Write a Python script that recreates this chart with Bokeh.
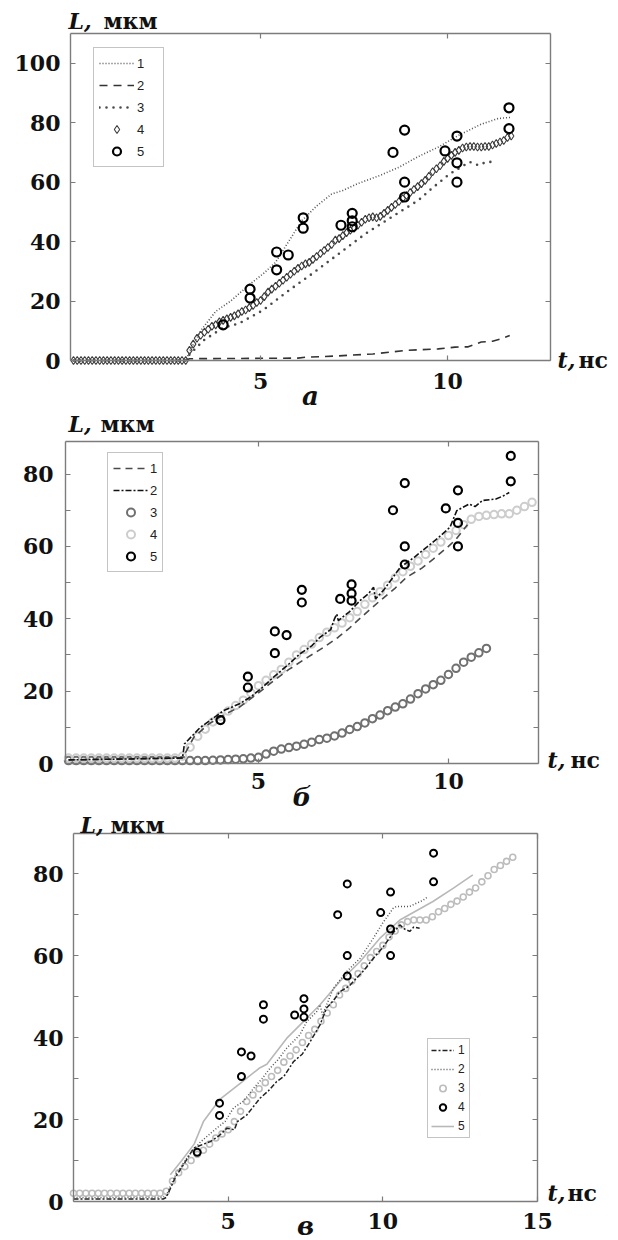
from bokeh.plotting import figure
from bokeh.models import Legend, LegendItem, Label, LinearAxis, FixedTicker, Range1d
from bokeh.layouts import column
from bokeh.embed import file_html
from bokeh.resources import INLINE

# ---------------- data ----------------
# experimental points (same in all three panels)
exp_t = [4.0, 4.72, 4.72, 5.43, 5.43, 5.74, 6.14, 6.14, 7.15, 7.45, 7.45, 7.45,
         8.54, 8.85, 8.85, 8.85, 9.93, 10.25, 10.25, 10.25, 11.64, 11.64]
exp_L = [12.0, 24.0, 21.0, 36.5, 30.5, 35.5, 48.0, 44.5, 45.5, 49.5, 47.0, 45.0,
         70.0, 77.5, 60.0, 55.0, 70.5, 75.5, 66.5, 60.0, 85.0, 78.0]

# panel a
a1_t = [0.0, 3.0, 3.1, 3.4, 3.8, 4.2, 4.7, 5.1, 5.4, 5.7, 6.1, 6.5, 6.9, 7.2, 7.6,
        8.2, 8.7, 9.2, 9.75, 10.3, 10.9, 11.35, 11.7]
a1_L = [0.0, 0.0, 3.0, 10.0, 16.5, 20.0, 25.5, 29.5, 33.0, 39.0, 47.0, 52.0, 56.0, 57.2, 59.5,
        62.3, 65.0, 68.5, 71.8, 75.8, 79.5, 81.4, 81.8]
a2_t = [0.0, 3.0, 3.1, 6.0, 6.2, 7.0, 8.0, 8.9, 9.75, 10.2, 10.55, 10.9, 11.2, 11.44, 11.66]
a2_L = [0.0, 0.0, 0.6, 0.8, 1.1, 1.5, 2.2, 3.4, 3.9, 4.5, 4.6, 6.2, 6.5, 7.3, 8.4]
a3_t = [0.0, 3.0, 3.1, 3.5, 4.0, 4.43, 5.05, 5.76, 6.38, 7.09, 7.8, 8.51, 9.22, 9.57,
        10.06, 10.59, 10.82, 11.04, 11.26]
a3_L = [0.0, 0.0, 2.0, 7.0, 11.0, 12.5, 16.8, 23.6, 29.2, 35.9, 42.6, 48.3, 53.9, 57.8,
        62.8, 66.8, 65.7, 66.8, 66.8]
a4_t = [0.0, 0.1, 0.2, 0.3, 0.4, 0.5, 0.6, 0.7, 0.8, 0.9, 1.0, 1.1, 1.2, 1.3, 1.4, 1.5,
        1.6, 1.7, 1.8, 1.9, 2.0, 2.1, 2.2, 2.3, 2.4, 2.5, 2.6, 2.7, 2.8, 2.9, 3.0,
        3.1, 3.2, 3.3, 3.4, 3.5, 3.6, 3.7, 3.8, 3.9, 4.0, 4.1, 4.2, 4.3, 4.4, 4.5, 4.6,
        4.7, 4.8, 4.9, 5.0, 5.1, 5.2, 5.3, 5.4, 5.5, 5.6, 5.7, 5.8, 5.9, 6.0, 6.1, 6.2,
        6.3, 6.4, 6.5, 6.6, 6.7, 6.8, 6.9, 7.0, 7.1, 7.2, 7.3, 7.4, 7.5, 7.6, 7.7, 7.8,
        7.9, 8.0, 8.1, 8.2, 8.3, 8.4, 8.5, 8.6, 8.7, 8.8, 8.9, 9.0, 9.1, 9.2, 9.3, 9.4,
        9.5, 9.6, 9.7, 9.8, 9.9, 10.0, 10.1, 10.2, 10.3, 10.4, 10.5, 10.6, 10.7, 10.8,
        10.9, 11.0, 11.1, 11.2, 11.3, 11.4, 11.5, 11.6, 11.7]
a4_L = [0.0, 0.0, 0.0, 0.0, 0.0, 0.0, 0.0, 0.0, 0.0, 0.0, 0.0, 0.0, 0.0, 0.0, 0.0, 0.0,
        0.0, 0.0, 0.0, 0.0, 0.0, 0.0, 0.0, 0.0, 0.0, 0.0, 0.0, 0.0, 0.0, 0.0, 0.0,
        3.4, 5.5, 7.5, 8.5, 9.5, 10.5, 11.5, 12.0, 13.0, 13.5, 14.0, 14.5, 15.0, 15.7, 16.5, 17.0,
        17.8, 18.5, 19.5, 20.2, 21.5, 23.0, 24.0, 25.0, 26.0, 27.0, 28.0, 29.0, 30.0, 31.0, 31.8, 32.5,
        33.0, 34.0, 35.0, 36.0, 37.0, 38.0, 39.0, 40.5, 41.0, 42.0, 43.0, 43.8, 44.5, 45.5, 46.5, 47.5,
        48.0, 48.3, 48.0, 48.5, 49.5, 50.5, 51.5, 52.5, 53.5, 54.5, 55.5, 56.5, 57.5, 58.5, 59.5, 60.6,
        62.0, 63.5, 64.5, 65.5, 67.0, 68.0, 69.0, 70.0, 70.7, 71.5, 71.8, 72.0, 72.0, 71.8,
        71.8, 72.0, 72.0, 72.5, 73.0, 73.5, 74.0, 75.0, 75.5]

# panel b
b1_t = [0.0, 3.0, 3.3, 3.7, 4.1, 4.5, 5.0, 5.4, 5.8, 6.3, 6.7, 7.1, 7.4, 7.7, 8.2, 8.6,
        8.9, 9.3, 9.6, 10.0, 10.2, 10.5]
b1_L = [1.0, 1.5, 7.3, 11.0, 13.5, 15.6, 19.5, 22.9, 26.0, 29.4, 32.0, 34.9, 37.5, 40.4, 45.0, 48.5,
        51.5, 54.0, 56.5, 60.0, 62.0, 66.0]
b2_t = [0.0, 3.0, 3.05, 3.47, 4.08, 4.5, 4.78, 5.1, 5.39, 5.8, 6.09, 6.4, 6.62, 6.9, 7.0, 7.06,
        7.1, 7.4, 7.67, 7.9, 8.03, 8.08, 8.3, 8.73, 9.1, 9.43, 9.8, 10.04, 10.22, 10.54, 10.7,
        10.9, 11.25, 11.45, 11.6]
b2_L = [1.0, 1.5, 5.4, 10.0, 14.6, 16.5, 18.3, 21.0, 23.8, 27.5, 30.3, 32.5, 34.9, 37.0, 40.0, 41.3,
        39.5, 42.0, 45.0, 47.0, 48.7, 45.5, 48.0, 54.2, 57.0, 59.8, 63.0, 65.3, 69.9, 71.7, 71.0,
        72.7, 73.1, 74.0, 74.9]
b3_t = [0.0, 0.2, 0.4, 0.6, 0.8, 1.0, 1.2, 1.4, 1.6, 1.8, 2.0, 2.2, 2.4, 2.6, 2.8, 3.0,
        3.2, 3.4, 3.6, 3.8, 4.0, 4.2, 4.4, 4.6, 4.8, 5.0, 5.2, 5.4, 5.6, 5.8, 6.0, 6.2,
        6.4, 6.6, 6.8, 7.0, 7.2, 7.4, 7.6, 7.8, 8.0, 8.2, 8.4, 8.6, 8.8, 9.0, 9.2, 9.4,
        9.6, 9.8, 10.0, 10.2, 10.4, 10.6, 10.8, 11.0]
b3_L = [0.8, 0.8, 0.8, 0.8, 0.8, 0.8, 0.8, 0.8, 0.8, 0.8, 0.8, 0.8, 0.8, 0.8, 0.8, 0.8,
        0.8, 0.8, 0.8, 0.9, 1.0, 1.1, 1.2, 1.3, 1.5, 1.7, 2.6, 3.4, 4.0, 4.4, 4.8, 5.3,
        5.9, 6.6, 7.0, 7.6, 8.4, 9.4, 10.2, 11.2, 12.4, 13.4, 14.6, 15.6, 16.5, 17.8, 19.3, 20.6,
        21.8, 23.0, 24.6, 26.3, 28.0, 29.4, 30.6, 31.8]
b4_t = [0.0, 0.2, 0.4, 0.6, 0.8, 1.0, 1.2, 1.4, 1.6, 1.8, 2.0, 2.2, 2.4, 2.6, 2.8, 3.0,
        3.2, 3.4, 3.6, 3.8, 4.0, 4.2, 4.4, 4.6, 4.8, 5.0, 5.2, 5.4, 5.6, 5.8, 6.0, 6.2,
        6.4, 6.6, 6.8, 7.0, 7.2, 7.4, 7.6, 7.8, 8.0, 8.2, 8.4, 8.6, 8.8, 9.0, 9.2, 9.4,
        9.6, 9.8, 10.0, 10.2, 10.4, 10.6, 10.8, 11.0, 11.2, 11.4, 11.6, 11.8, 12.0, 12.2]
b4_L = [1.5, 1.5, 1.5, 1.5, 1.5, 1.5, 1.5, 1.5, 1.5, 1.5, 1.5, 1.5, 1.5, 1.5, 1.5, 2.0,
        4.5, 7.5, 9.5, 11.5, 13.0, 14.5, 16.0, 17.5, 19.5, 21.5, 23.0, 24.5, 26.0, 28.0, 30.0, 31.5,
        33.0, 34.8, 36.3, 37.5, 38.8, 40.3, 42.0, 44.0, 45.8, 47.5, 49.3, 51.3, 53.0, 54.5, 56.0, 57.8,
        59.5, 61.2, 63.0, 64.4, 66.0, 67.5, 68.3, 68.6, 68.8, 69.0, 69.0, 70.0, 71.0, 72.2]

# panel c
c1_t = [0.0, 2.9, 3.0, 3.3, 3.6, 3.88, 4.2, 4.42, 4.7, 4.96, 5.2, 5.3, 5.6, 6.03, 6.3, 6.57,
        6.8, 7.11, 7.4, 7.65, 7.97, 8.18, 8.4, 8.61, 8.9, 9.15, 9.4, 9.69, 10.0, 10.33, 10.55,
        10.7, 10.87, 11.0, 11.19]
c1_L = [0.6, 0.6, 1.0, 6.0, 9.5, 13.0, 14.0, 14.6, 16.0, 17.9, 17.5, 19.5, 21.1, 25.2, 27.0, 29.3,
        30.5, 34.1, 36.0, 39.0, 43.1, 47.2, 49.0, 51.2, 52.5, 54.5, 56.5, 59.3, 62.0, 65.5, 67.5,
        66.5, 65.9, 67.0, 66.7]
c2_t = [0.0, 2.9, 3.0, 3.3, 3.7, 4.1, 4.63, 4.9, 5.17, 5.5, 5.82, 6.1, 6.35, 6.6, 6.89, 7.1,
        7.32, 7.54, 7.86, 7.97, 8.05, 8.4, 8.83, 9.26, 9.69, 10.0, 10.33, 10.44, 10.87, 11.09,
        11.3, 11.46]
c2_L = [1.0, 1.0, 1.5, 6.5, 11.0, 14.5, 17.9, 19.5, 22.8, 24.5, 27.6, 30.0, 32.5, 34.5, 37.4, 39.0,
        40.7, 43.9, 46.3, 48.0, 45.5, 52.0, 56.1, 59.3, 64.2, 68.0, 71.5, 72.0, 72.0, 72.8,
        73.5, 74.4]
c3_t = [0.0, 0.2, 0.4, 0.6, 0.8, 1.0, 1.2, 1.4, 1.6, 1.8, 2.0, 2.2, 2.4, 2.6, 2.8, 3.0,
        3.2, 3.4, 3.6, 3.8, 4.0, 4.2, 4.4, 4.6, 4.8, 5.0, 5.2, 5.4, 5.6, 5.8, 6.0, 6.2,
        6.4, 6.6, 6.8, 7.0, 7.2, 7.4, 7.6, 7.8, 8.0, 8.2, 8.4, 8.6, 8.8, 9.0, 9.2, 9.4,
        9.6, 9.8, 10.0, 10.2, 10.4, 10.6, 10.8, 11.0, 11.2, 11.4, 11.6, 11.8, 12.0, 12.2,
        12.4, 12.6, 12.8, 13.0, 13.2, 13.4, 13.6, 13.8, 14.0, 14.2]
c3_L = [2.0, 2.0, 2.0, 2.0, 2.0, 2.0, 2.0, 2.0, 2.0, 2.0, 2.0, 2.0, 2.0, 2.0, 2.0, 2.5,
        5.0, 7.0, 8.5, 10.0, 11.5, 12.5, 14.0, 15.5, 16.5, 17.5, 19.5, 22.0, 24.4, 26.0, 27.5, 29.0,
        30.5, 32.0, 34.0, 35.5, 37.0, 38.8, 40.5, 42.0, 44.0, 46.0, 48.0, 50.4, 52.0, 53.8, 55.6, 57.5,
        59.5, 61.0, 62.5, 64.5, 66.0, 67.5, 68.3, 68.7, 68.7, 68.7, 69.5, 70.7, 71.5, 72.5,
        73.3, 74.3, 75.5, 76.5, 78.0, 79.5, 81.0, 82.0, 83.0, 84.0]
c5_t = [3.13, 3.5, 3.9, 4.2, 4.74, 5.39, 6.0, 6.25, 6.89, 7.43, 7.97, 8.61, 9.26, 9.9,
        10.55, 11.62, 12.27, 12.91]
c5_L = [6.5, 10.0, 14.0, 19.5, 25.0, 28.8, 32.5, 33.5, 39.8, 43.9, 48.0, 53.7, 58.5, 64.2,
        68.7, 73.2, 76.4, 79.7]

legend_labels = ["1", "2", "3", "4", "5"]
panel_names = ["а", "б", "в"]
x_ticks_ab = [5, 10]
x_ticks_c = [5, 10, 15]
y_ticks_a = [0, 20, 40, 60, 80, 100]
y_ticks_bc = [0, 20, 40, 60, 80]
y_minor_bc = [10, 30, 50, 70]

# ---------------- styling helpers ----------------
GRAY = "#7c7c7c"
SERIF = "DejaVu Serif"
TXT = "#111111"
W = 618


def style_axis(ax, ticks, minor, show, standoff=0):
    ax.ticker = FixedTicker(ticks=ticks, minor_ticks=minor)
    ax.axis_line_color = GRAY
    ax.axis_line_width = 1.4
    ax.major_tick_line_color = GRAY
    ax.minor_tick_line_color = GRAY
    ax.major_tick_line_width = 1.2
    ax.minor_tick_line_width = 1.2
    ax.major_tick_in = 5
    ax.major_tick_out = 0
    ax.minor_tick_in = 5
    ax.minor_tick_out = 0
    if show:
        ax.major_label_text_font = SERIF
        ax.major_label_text_font_style = "bold"
        ax.major_label_text_font_size = "22px"
        ax.major_label_text_color = TXT
        ax.major_label_standoff = standoff
    else:
        ax.major_label_text_color = None


def make_panel(box, xlim, ylim, h, xt, yt, ym, xstand, ystand):
    # box: pixel position of the axes box inside the canvas (left, right, top, bottom)
    bl, br, bt, bb = box
    kx = (br - bl) / (xlim[1] - xlim[0])
    ky = (bb - bt) / (ylim[1] - ylim[0])
    xr = Range1d(xlim[0] - bl / kx, xlim[1] + (W - br) / kx)
    yr = Range1d(ylim[0] - (h - bb) / ky, ylim[1] + bt / ky)
    p = figure(width=W, height=h, x_range=xr, y_range=yr,
               output_backend="svg", toolbar_location=None, min_border=0)
    p.xgrid.visible = False
    p.ygrid.visible = False
    p.outline_line_color = None
    p.background_fill_color = "white"
    p.border_fill_color = "white"
    xb = p.xaxis[0]
    yl = p.yaxis[0]
    xb.fixed_location = ylim[0]
    xb.bounds = xlim
    yl.fixed_location = xlim[0]
    yl.bounds = ylim
    style_axis(xb, xt, [], True, xstand)
    style_axis(yl, yt, ym, True, ystand)
    top = LinearAxis(fixed_location=ylim[1], bounds=xlim)
    right = LinearAxis(fixed_location=xlim[1], bounds=ylim)
    style_axis(top, xt, [], False)
    style_axis(right, yt, ym, False)
    p.add_layout(top, "above")
    p.add_layout(right, "right")
    return p


def add_text(p, x, y, text, xoff, yoff, size="22px", style="bold", align="left"):
    p.add_layout(Label(x=x, y=y, text=text, x_offset=xoff, y_offset=yoff,
                       text_font=SERIF, text_font_style=style, text_font_size=size,
                       text_align=align, text_baseline="alphabetic", text_color=TXT))


def axis_titles(p, xlim, ylim, lx, mx, ly, tx, nx, ty, py, name):
    add_text(p, xlim[0], ylim[1], "L,", lx, ly, style="bold italic")
    add_text(p, xlim[0], ylim[1], "мкм", mx, ly)
    add_text(p, xlim[1], ylim[0], "t,", tx, ty, style="bold italic")
    add_text(p, xlim[1], ylim[0], "нс", nx, ty)
    add_text(p, (xlim[0] + xlim[1]) / 2, ylim[0], name, 0, py, size="26px",
             style="bold italic", align="center")


def make_legend(p, items, loc, glyph_w, item_h, spacing, padding, standoff, label_w, font):
    lg = Legend(items=[LegendItem(label=lab, renderers=[r]) for lab, r in zip(legend_labels, items)],
                location=loc, orientation="vertical")
    lg.glyph_width = glyph_w
    lg.glyph_height = item_h
    lg.label_height = item_h
    lg.spacing = spacing
    lg.padding = padding
    lg.margin = 0
    lg.label_standoff = standoff
    lg.label_width = label_w
    lg.label_text_font = "Liberation Sans"
    lg.label_text_font_size = font
    lg.label_text_color = "#222222"
    lg.border_line_color = "#8a8a8a"
    lg.border_line_width = 1.3
    lg.background_fill_color = "white"
    lg.background_fill_alpha = 1.0
    p.add_layout(lg)


# ---------------- panel a ----------------
xa = (-0.08, 12.75)
ya = (0, 110)
pa = make_panel((70, 550, 33, 360), xa, ya, 410, x_ticks_ab, y_ticks_a, [], 12, 10)
ra4 = pa.scatter(a4_t, a4_L, marker="diamond", size=8, fill_color=None,
                 line_color="#3c3c3c", line_width=1.1)
ra1 = pa.line(a1_t, a1_L, line_color="#555555", line_width=1.6, line_dash="1 2")
ra2 = pa.line(a2_t, a2_L, line_color="#333333", line_width=1.6, line_dash="8 6")
ra3 = pa.line(a3_t, a3_L, line_color="#4a4a4a", line_width=2.6, line_dash="0 7", line_cap="round")
ra5 = pa.scatter(exp_t, exp_L, marker="circle", size=9, fill_color=None,
                 line_color="black", line_width=2.2)
make_legend(pa, [ra1, ra2, ra3, ra4, ra5], (93, 243), 35, 20, 2, 5, 3, 21, "13px")
axis_titles(pa, xa, ya, -2, 33, 13, 7, 28, 1, -35, panel_names[0])

# ---------------- panel b ----------------
xb_ = (-0.08, 12.37)
yb_ = (0, 89)
pb = make_panel((65, 538, 31, 353), xb_, yb_, 401, x_ticks_ab, y_ticks_bc, y_minor_bc, 9, 12)
rb3 = pb.scatter(b3_t, b3_L, marker="circle", size=7.5, fill_color=None,
                 line_color="#707070", line_width=2.0)
rb4 = pb.scatter(b4_t, b4_L, marker="circle", size=7.5, fill_color=None,
                 line_color="#cdcdcd", line_width=2.0)
rb1 = pb.line(b1_t, b1_L, line_color="#4a4a4a", line_width=1.6, line_dash="7 5")
rb2 = pb.line(b2_t, b2_L, line_color="#111111", line_width=1.6, line_dash="6 2 2 2")
rb5 = pb.scatter(exp_t, exp_L, marker="circle", size=8, fill_color=None,
                 line_color="black", line_width=2.2)
make_legend(pb, [rb1, rb2, rb3, rb4, rb5], (107, 239), 35, 20, 2, 5, 2, 7, "13px")
axis_titles(pb, xb_, yb_, 3, 35, 18, 9, 32, 4, -33, panel_names[1])

# ---------------- panel c ----------------
xc = (0, 15)
yc = (0, 89.8)
pc = make_panel((73, 537, 22, 390), xc, yc, 429, x_ticks_c, y_ticks_bc, y_minor_bc, 11, 10)
rc3 = pc.scatter(c3_t, c3_L, marker="circle", size=6, fill_color=None,
                 line_color="#bcbcbc", line_width=1.6)
rc5 = pc.line(c5_t, c5_L, line_color="#b8b8b8", line_width=1.6)
rc1 = pc.line(c1_t, c1_L, line_color="#222222", line_width=1.5, line_dash="5 2 2 2")
rc2 = pc.line(c2_t, c2_L, line_color="#555555", line_width=1.5, line_dash="1 2")
rc4 = pc.scatter(exp_t, exp_L, marker="circle", size=7, fill_color=None,
                 line_color="black", line_width=2.0)
make_legend(pc, [rc1, rc2, rc3, rc4, rc5], (427, 102), 23, 16, 3, 3, 4, 8, "12px")
axis_titles(pc, xc, yc, 7, 37, 9, 10, 30, 9, -24, panel_names[2])

layout = column(pa, pb, pc, spacing=0)
open("out.html", "w").write(file_html(layout, INLINE))
